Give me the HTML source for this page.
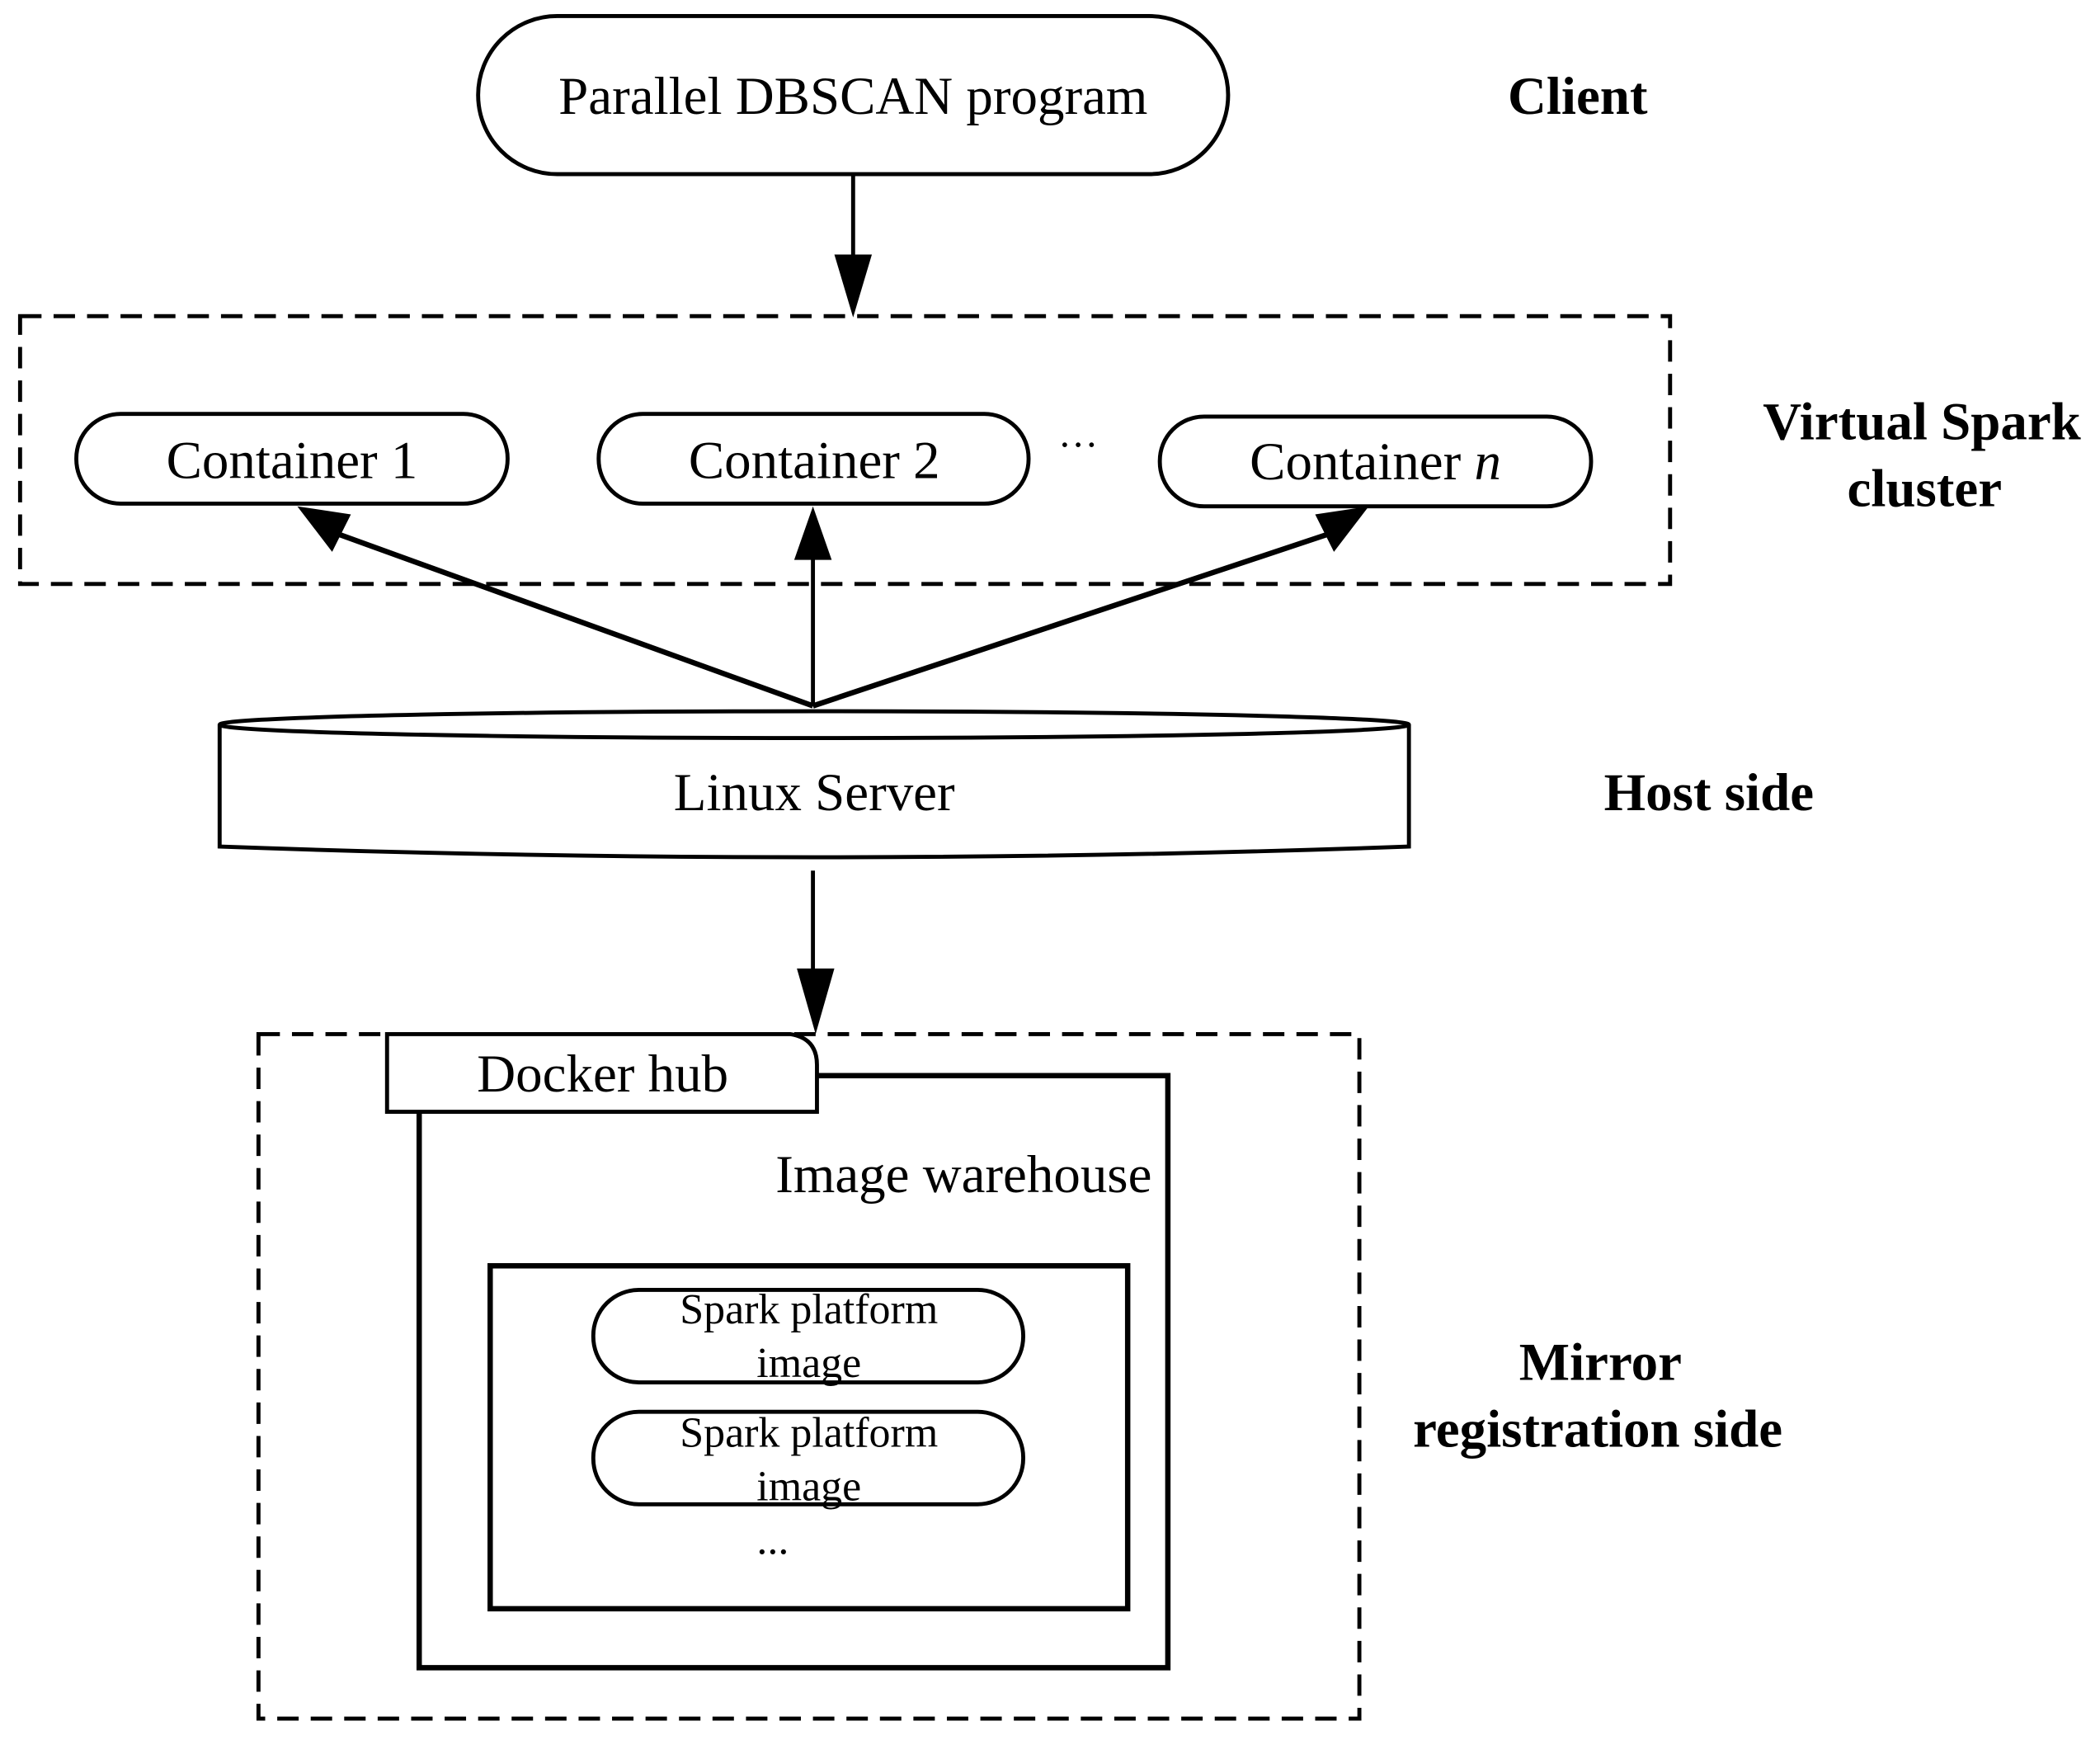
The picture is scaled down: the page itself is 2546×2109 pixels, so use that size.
<!DOCTYPE html>
<html><head><meta charset="utf-8"><style>html,body{margin:0;padding:0;background:#fff}svg{display:block}</style></head>
<body>
<svg width="2546" height="2109" viewBox="0 0 1568 1299" preserveAspectRatio="none" xmlns="http://www.w3.org/2000/svg" font-family="Liberation Serif, serif">
<defs>
<marker id="a" markerWidth="10" markerHeight="16" refX="9.5" refY="5" orient="auto" markerUnits="userSpaceOnUse" viewBox="0 0 10 10" preserveAspectRatio="none">
</marker>
</defs>
<g fill="none" stroke="#000" stroke-width="3">
<rect x="357" y="12" width="560" height="118" rx="59"/>
<rect x="15" y="236" width="1232" height="200" stroke-dasharray="16,9"/>
<rect x="57" y="309" width="322" height="67" rx="33"/>
<rect x="447" y="309" width="321" height="67" rx="33"/>
<rect x="866" y="311" width="322" height="67" rx="33"/>
<line x1="637" y1="130" x2="637" y2="195"/>
<line x1="607" y1="527" x2="245" y2="396" stroke-width="4"/>
<line x1="607" y1="527" x2="607" y2="410"/>
<line x1="607" y1="527" x2="1000" y2="396" stroke-width="4"/>
<path d="M164 541 L164 632 Q608 648 1052 632 L1052 541"/>
<ellipse cx="608" cy="541" rx="444" ry="10"/>
<line x1="607" y1="650" x2="607" y2="728"/>
<rect x="193" y="772" width="822" height="511" stroke-dasharray="16,9"/>
<path d="M610 803 L872 803 L872 1245 L313 1245 L313 830" stroke-width="4"/>
<path d="M289 830 L289 772 L590 772 Q610 775 610 795 L610 830 Z" fill="#fff"/>
<rect x="366" y="945" width="476" height="256" stroke-width="4"/>
<rect x="443" y="963" width="321" height="69" rx="34"/>
<rect x="443" y="1054" width="321" height="69" rx="34"/>
</g>
<g fill="#000">
<polygon points="623,190 651,190 637,237"/>
<polygon points="222,378 262,384 248,412"/>
<polygon points="607,378 593,418 621,418"/>
<polygon points="1022,378 982,384 996,412"/>
<polygon points="595,723 623,723 609,772"/>
</g>
<g font-size="40" text-anchor="middle">
<text x="637" y="85">Parallel DBSCAN program</text>
<text x="218" y="357">Container 1</text>
<text x="608" y="357">Container 2</text>
<text x="1027" y="358">Container <tspan font-style="italic">n</tspan></text>
<text x="805" y="342" font-size="30">···</text>
<text x="608" y="605">Linux Server</text>
<text x="450" y="815">Docker hub</text>
<text x="860" y="890" text-anchor="end">Image warehouse</text>
<g font-size="32">
<text x="604" y="988">Spark platform</text>
<text x="604" y="1028">image</text>
<text x="604" y="1080">Spark platform</text>
<text x="604" y="1120">image</text>
<text x="577" y="1160">...</text>
</g>
</g>
<g font-size="40" font-weight="bold" text-anchor="middle">
<text x="1178" y="85">Client</text>
<text x="1435" y="328">Virtual Spark</text>
<text x="1437" y="378">cluster</text>
<text x="1276" y="605">Host side</text>
<text x="1195" y="1030">Mirror</text>
<text x="1193" y="1080">registration side</text>
</g>
</svg>
</body></html>
